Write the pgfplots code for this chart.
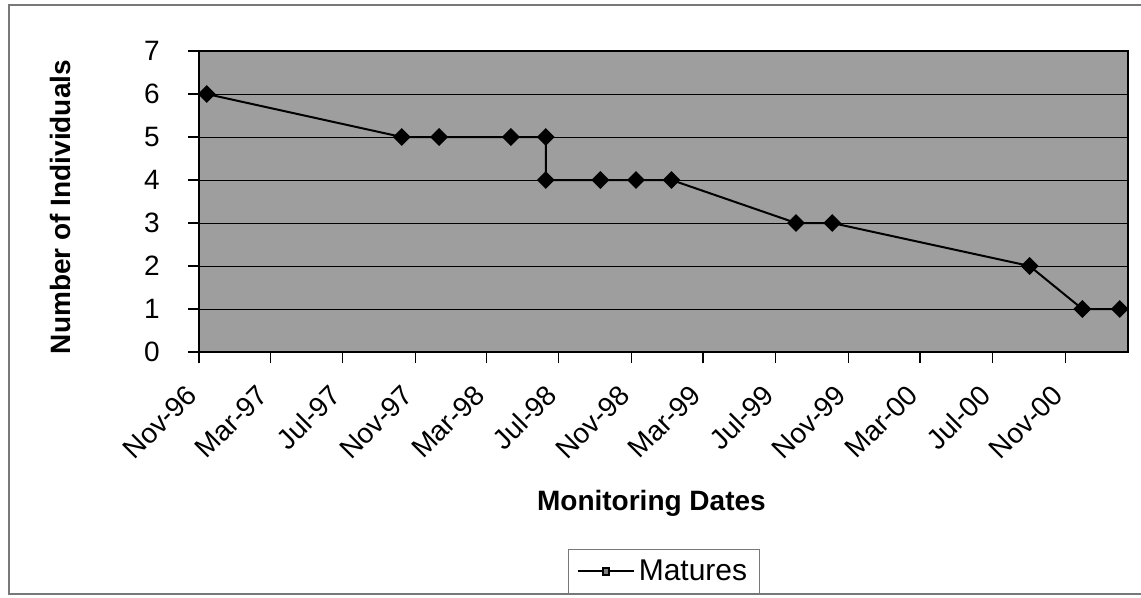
\documentclass[border=0pt]{standalone}
\usepackage{pgfplots}
\pgfplotsset{compat=1.18}
\usepackage{fontspec}
\setmainfont{Liberation Sans}
\definecolor{plotbg}{RGB}{158,158,158}
\definecolor{frameg}{RGB}{120,120,120}
\begin{document}
\begin{tikzpicture}
\useasboundingbox (0,0) rectangle (570.5pt,-299pt);
\draw[frameg, line width=0.6pt] (1150pt,-2.5pt) -- (4.5pt,-2.5pt) -- (4.5pt,-297pt) -- (1150pt,-297pt);
\begin{axis}[
  at={(99.5pt,-176pt)}, anchor=south west,
  scale only axis, width=464.5pt, height=150.5pt,
  xmin=0, xmax=1567, ymin=0, ymax=7,
  xtick={0,120,242,365,485,607,730,850,972,1095,1216,1338,1461},
  xticklabels={Nov-96,Mar-97,Jul-97,Nov-97,Mar-98,Jul-98,Nov-98,Mar-99,Jul-99,Nov-99,Mar-00,Jul-00,Nov-00},
  ytick={0,1,2,3,4,5,6,7},
  tick align=outside, major tick length=5.5pt,
  tick style={black, line width=0.6pt},
  xtick pos=bottom, ytick pos=left,
  /pgf/number format/assume math mode=true,
  tick label style={font=\fontsize{14}{16}\selectfont},
  xticklabel style={xshift=-3.5pt, yshift=-13.5pt, rotate=45, anchor=east, inner sep=0pt},
  yticklabel style={anchor=east, inner sep=0pt, xshift=-14pt},
  ymajorgrids, grid style={black, line width=0.5pt},
  axis line style={black, line width=0.7pt},
  axis background/.style={fill=plotbg},
  xlabel={Monitoring Dates},
  ylabel={Number of Individuals},
  label style={font=\bfseries\fontsize{14}{16}\selectfont},
  xlabel style={at={(axis description cs:0.487,-0.528)}, anchor=base},
  ylabel style={at={(axis description cs:-0.1495,0.4817)}, anchor=center},
  legend style={at={(axis description cs:0.5005,-0.729)}, anchor=center,
    draw=frameg, line width=0.5pt, font=\fontsize{15}{17}\selectfont,
    inner xsep=4pt, inner ysep=3pt},
  legend image code/.code={\draw[#1, mark repeat=2, mark phase=2] plot coordinates {(0pt,0pt) (14pt,0pt) (28pt,0pt)};},
  legend image post style={mark options={fill=gray, draw=black, scale=0.6}},
]
\addplot[black, line width=1pt, mark=square*, mark size=2.65pt, mark options={rotate=45, fill=black}]
  coordinates {
  (13,6) (342,5) (405,5) (526,5) (585,5) (585,4) (677,4) (737,4) (797,4)
  (1007,3) (1068,3) (1401,2) (1490,1) (1553,1)
  };
\addlegendentry{Matures}
\end{axis}
\end{tikzpicture}
\end{document}
